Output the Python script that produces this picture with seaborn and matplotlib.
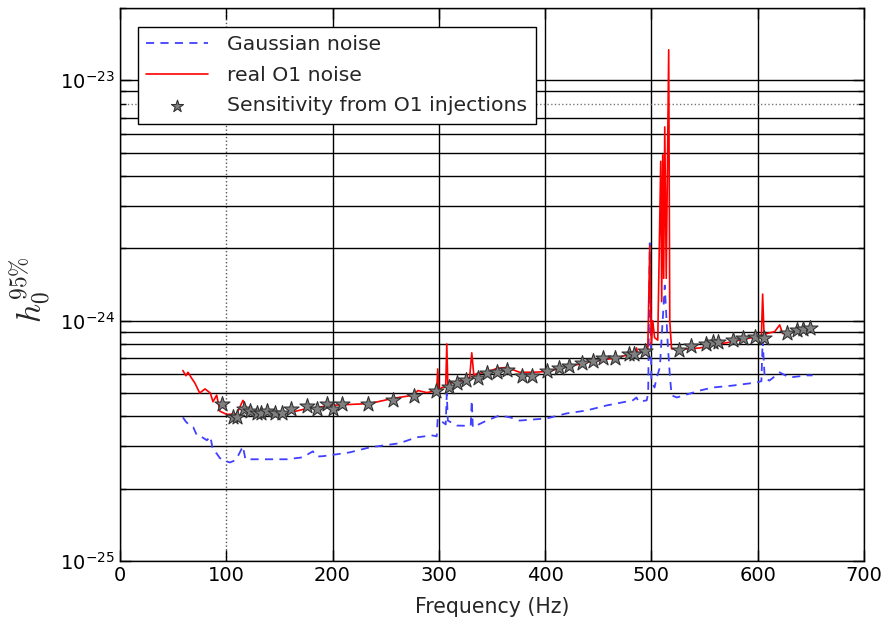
import numpy as np
import matplotlib
matplotlib.use("Agg")
import matplotlib.pyplot as plt
from matplotlib.ticker import LogLocator, MultipleLocator, NullFormatter
import seaborn as sns

# Gaussian noise (blue dashed)
gauss_freq = [59.2, 62, 65.8, 69, 72.4, 76, 81.8, 85, 87.5, 91, 94, 100, 103.5, 108, 110,
              115.7, 118, 122, 134.5, 157, 172, 181.5, 185, 191, 204, 216, 235, 263, 279, 294,
              298, 299, 303, 306.5, 307.5, 308.5, 317, 330, 331, 332, 345, 357, 367, 376,
              401.6, 420, 439, 458, 482.5, 486, 488, 495.6, 497, 498.5, 500, 503, 505, 508,
              510, 512.6, 515.4, 517.3, 519, 524, 545.5, 557.7, 576.5, 599, 603.5, 604.7,
              606.6, 611, 620.7, 630, 646, 651.7]
gauss_h0 = [3.96, 3.8, 3.66, 3.6, 3.33, 3.3, 3.18, 3.3, 2.89, 2.8, 2.68, 2.6, 2.57, 2.62, 2.68,
            3.0, 2.65, 2.65, 2.65, 2.65, 2.7, 2.86, 2.72, 2.73, 2.78, 2.83, 2.97, 3.09, 3.27, 3.33,
            3.3, 3.92, 3.8, 3.7, 4.97, 3.84, 3.66, 3.65, 4.66, 3.6, 3.84, 4.03, 3.96, 3.84,
            3.92, 4.11, 4.23, 4.44, 4.66, 4.79, 4.6, 4.66, 5.0, 21, 5.6, 5.27, 5.8, 6.39,
            9, 14, 8.0, 6.0, 4.89, 4.79, 5.12, 5.27, 5.37, 5.53, 5.6, 8.3,
            5.8, 5.63, 6.09, 5.8, 5.92, 5.92]

# real O1 noise (red)
o1_freq = [59.2, 62, 64, 67, 70.5, 75, 80, 85, 87.5, 91, 94, 100.6, 110, 115.7, 120, 129,
           157, 172, 185, 197.5, 216, 235, 256.7, 275.6, 280.3, 288.7, 298, 299, 300, 302.8,
           306.5, 307.5, 308.5, 310, 319.8, 329, 331, 333, 335.7, 345, 354.5, 364, 376, 388,
           401.6, 439, 467, 482.5, 485, 486, 487, 496.6, 498.5, 500, 501.3, 503, 506, 508.8,
           509.7, 510.7, 511.6, 512.6, 514, 516.3, 517.3, 519, 524, 545.5, 571, 595, 603.5,
           604.7, 606, 608.5, 616, 620.7, 623.5, 651.7]
o1_h0 = [6.2, 5.9, 6.1, 5.8, 5.5, 5.0, 5.2, 5.0, 4.6, 4.9, 4.2, 4.07, 4.1, 4.66, 4.24, 4.11,
         4.11, 4.27, 4.35, 4.44, 4.48, 4.52, 4.75, 4.89, 5.12, 5.02, 5.12, 6.3, 5.12, 5.27,
         5.3, 8.0, 5.4, 5.48, 5.63, 5.8, 7.35, 5.9, 6.03, 6.09, 6.33, 6.39, 6.1, 6.1,
         6.14, 6.7, 7.0, 7.3, 7.3, 7.7, 7.35, 7.5, 20.5, 8.0, 10, 8.5, 8.3, 46,
         12, 49, 15, 64, 15, 134, 10, 7.64, 7.57, 7.7, 8.1, 8.5, 8.6,
         12.9, 8.7, 8.84, 9.0, 9.6, 8.84, 9.2]

# sensitivity from O1 injections (stars)
inj_freq = [95.9, 106.3, 110.0, 116.6, 122.3, 128.8, 132.6, 138.2, 145.7, 152.4, 160.8, 175.9,
            185.3, 194.7, 200.3, 208.8, 233.2, 256.7, 276.5, 297.2, 309.4, 316.9, 325.4, 336.7,
            345.2, 354.6, 364.0, 378.1, 387.5, 401.6, 412.9, 422.3, 434.5, 444.8, 454.2, 465.5,
            478.7, 483.4, 493.7, 525.7, 537.0, 551.1, 557.7, 562.4, 576.5, 585.9, 597.2, 605.7,
            627.3, 636.7, 642.3, 648.9]
inj_h0 = [4.52, 3.96, 3.96, 4.27, 4.19, 4.11, 4.11, 4.19, 4.11, 4.11, 4.31, 4.40,
          4.31, 4.52, 4.31, 4.48, 4.48, 4.66, 4.84, 5.12, 5.32, 5.48, 5.69, 5.80,
          6.03, 6.09, 6.26, 5.86, 5.91, 6.20, 6.38, 6.45, 6.69, 6.82, 7.02, 7.02,
          7.30, 7.30, 7.51, 7.58, 7.88, 8.03, 8.18, 8.18, 8.34, 8.50, 8.58, 8.50,
          8.92, 9.18, 9.26, 9.35]

scale = 1e-25

sns.set_style("ticks")
plt.rcParams["font.family"] = ["DejaVu Sans"]
plt.rcParams["mathtext.fontset"] = "cm"
plt.rcParams["axes.unicode_minus"] = False
plt.rcParams["lines.dashed_pattern"] = [4.5, 3.5]

fig = plt.figure(figsize=(8.88, 6.19), dpi=100)
ax = fig.add_axes([0.1351, 0.0937, 0.8378, 0.8934])

sns.lineplot(x=gauss_freq, y=np.array(gauss_h0) * scale, ax=ax, color="#4040ff",
             linestyle="--", lw=1.3, sort=False, estimator=None, label="Gaussian noise")
sns.lineplot(x=o1_freq, y=np.array(o1_h0) * scale, ax=ax, color="red",
             lw=1.2, sort=False, estimator=None, label="real O1 noise")
sns.scatterplot(x=inj_freq, y=np.array(inj_h0) * scale, ax=ax, marker="*", s=130,
                color="#808080", edgecolor="#333333", linewidth=0.8, zorder=3,
                label="Sensitivity from O1 injections")

ax.set_yscale("log")
ax.set_xlim(0, 700)
ax.set_ylim(1e-25, 2e-23)
ax.xaxis.set_major_locator(MultipleLocator(100))
ax.yaxis.set_major_locator(LogLocator(base=10))
ax.yaxis.set_minor_locator(LogLocator(base=10, subs=np.arange(2, 10)))
ax.yaxis.set_minor_formatter(NullFormatter())

ax.tick_params(which="both", direction="in", top=True, right=True, labelsize=14,
               colors="black")
ax.tick_params(which="major", length=8, width=1)
ax.tick_params(which="minor", length=4, width=1)
for s in ax.spines.values():
    s.set_color("black")
    s.set_linewidth(1.0)

ax.grid(which="both", color="black", linestyle="-", linewidth=1.0)

ax.set_xlabel("Frequency (Hz)", fontsize=14.8, labelpad=9)
ax.set_ylabel(r"$h_0^{95\%}$", fontsize=24)
ax.yaxis.set_label_coords(-0.09, 0.49)

leg = ax.legend(loc="upper left", bbox_to_anchor=(0.024, 0.966), borderaxespad=0,
                fontsize=14.7, fancybox=False, framealpha=1, edgecolor="black",
                handlelength=3.0, handletextpad=0.95, labelspacing=0.56,
                borderpad=0.42, scatterpoints=1, markerscale=0.8)
leg.get_frame().set_linewidth(1.0)

fig.canvas.draw()
for t in ax.xaxis.get_major_ticks():
    if np.isclose(t.get_loc(), 100, atol=0):
        t.gridline.set_linestyle(":")
        t.gridline.set_color("#555555")
for t in ax.yaxis.get_minor_ticks():
    if np.isclose(t.get_loc(), 8e-24, rtol=1e-3, atol=0):
        t.gridline.set_linestyle(":")
        t.gridline.set_color("#777777")

fig.savefig("out.png", dpi=100)
